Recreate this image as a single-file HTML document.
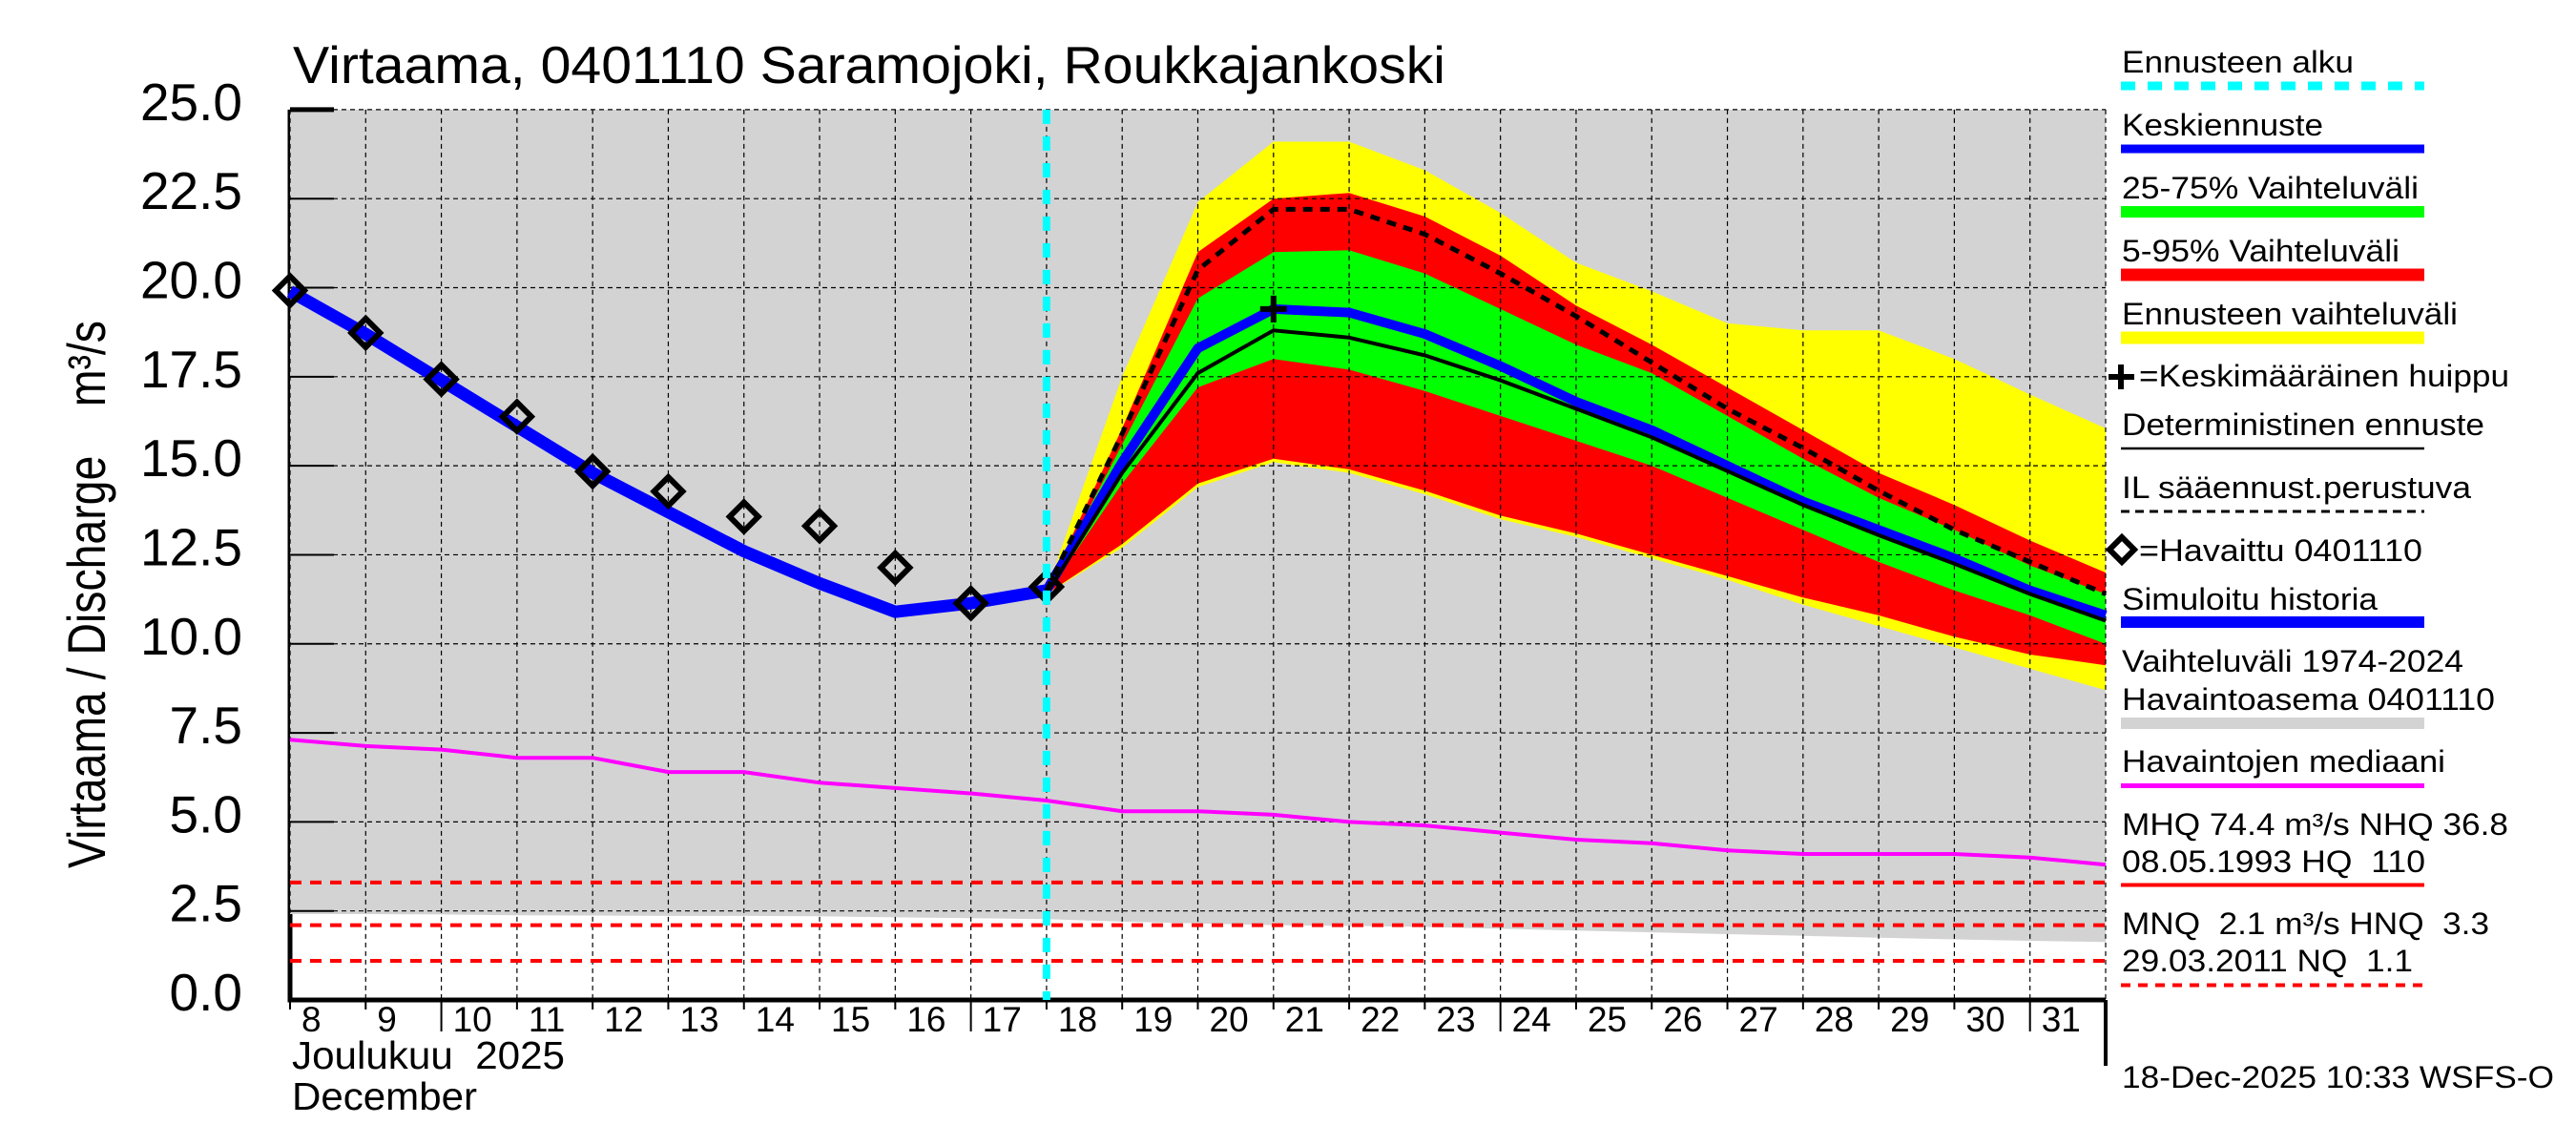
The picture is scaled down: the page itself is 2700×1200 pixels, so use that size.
<!DOCTYPE html>
<html><head><meta charset="utf-8"><style>
html,body{margin:0;padding:0;background:#fff;}
svg{display:block;font-family:"Liberation Sans",sans-serif;}
svg text{white-space:pre;}
</style></head><body>
<svg id="chart" width="2700" height="1200" viewBox="0 0 2700 1200" xmlns="http://www.w3.org/2000/svg">
<rect x="0" y="0" width="2700" height="1200" fill="#fff"/>
<text x="307" y="87" font-size="55" textLength="1208" lengthAdjust="spacingAndGlyphs">Virtaama, 0401110 Saramojoki, Roukkajankoski</text>
<text transform="translate(110,623) rotate(-90)" text-anchor="middle" font-size="56" textLength="574" lengthAdjust="spacingAndGlyphs">Virtaama / Discharge    m³/s</text>
<g id="plot"></g>
<text x="306" y="1120" font-size="41" textLength="286" lengthAdjust="spacingAndGlyphs">Joulukuu  2025</text>
<text x="306" y="1163" font-size="41" textLength="194" lengthAdjust="spacingAndGlyphs">December</text>
<g font-size="32">
<text x="2224" y="76" textLength="243" lengthAdjust="spacingAndGlyphs">Ennusteen alku</text>
<line x1="2223" y1="90" x2="2541" y2="90" stroke="#00ffff" stroke-width="9" stroke-dasharray="15,13"/>
<text x="2224" y="142" textLength="211" lengthAdjust="spacingAndGlyphs">Keskiennuste</text>
<line x1="2223" y1="156" x2="2541" y2="156" stroke="#0000ff" stroke-width="9"/>
<text x="2224" y="208" textLength="311" lengthAdjust="spacingAndGlyphs">25-75% Vaihteluväli</text>
<line x1="2223" y1="222" x2="2541" y2="222" stroke="#00ff00" stroke-width="12"/>
<text x="2224" y="274" textLength="291" lengthAdjust="spacingAndGlyphs">5-95% Vaihteluväli</text>
<line x1="2223" y1="288" x2="2541" y2="288" stroke="#ff0000" stroke-width="13"/>
<text x="2224" y="340" textLength="352" lengthAdjust="spacingAndGlyphs">Ennusteen vaihteluväli</text>
<line x1="2223" y1="354" x2="2541" y2="354" stroke="#ffff00" stroke-width="13"/>
<path d="M2210 395 H2237 M2223 382 V408" stroke="#000" stroke-width="6"/>
<text x="2242" y="405" textLength="388" lengthAdjust="spacingAndGlyphs">=Keskimääräinen huippu</text>
<text x="2224" y="456" textLength="380" lengthAdjust="spacingAndGlyphs">Deterministinen ennuste</text>
<line x1="2223" y1="470" x2="2541" y2="470" stroke="#000" stroke-width="2.5"/>
<text x="2224" y="522" textLength="366" lengthAdjust="spacingAndGlyphs">IL sääennust.perustuva</text>
<line x1="2223" y1="536" x2="2541" y2="536" stroke="#000" stroke-width="3" stroke-dasharray="9,6"/>
<path d="M2224 563 L2237 576 L2224 589 L2211 576 Z" fill="none" stroke="#000" stroke-width="6"/>
<text x="2242" y="588" textLength="297" lengthAdjust="spacingAndGlyphs">=Havaittu 0401110</text>
<text x="2224" y="639" textLength="268" lengthAdjust="spacingAndGlyphs">Simuloitu historia</text>
<line x1="2223" y1="652" x2="2541" y2="652" stroke="#0000ff" stroke-width="12"/>
<text x="2224" y="704" textLength="358" lengthAdjust="spacingAndGlyphs">Vaihteluväli 1974-2024</text>
<text x="2224" y="744" textLength="391" lengthAdjust="spacingAndGlyphs">Havaintoasema 0401110</text>
<line x1="2223" y1="758" x2="2541" y2="758" stroke="#d3d3d3" stroke-width="12"/>
<text x="2224" y="809" textLength="339" lengthAdjust="spacingAndGlyphs">Havaintojen mediaani</text>
<line x1="2223" y1="823.5" x2="2541" y2="823.5" stroke="#ff00ff" stroke-width="5"/>
<text x="2224" y="875" textLength="405" lengthAdjust="spacingAndGlyphs">MHQ 74.4 m³/s NHQ 36.8</text>
<text x="2224" y="914" textLength="318" lengthAdjust="spacingAndGlyphs">08.05.1993 HQ  110</text>
<line x1="2223" y1="927.5" x2="2541" y2="927.5" stroke="#ff0000" stroke-width="4"/>
<text x="2224" y="979" textLength="385" lengthAdjust="spacingAndGlyphs">MNQ  2.1 m³/s HNQ  3.3</text>
<text x="2224" y="1018" textLength="305" lengthAdjust="spacingAndGlyphs">29.03.2011 NQ  1.1</text>
<line x1="2223" y1="1032.5" x2="2541" y2="1032.5" stroke="#ff0000" stroke-width="4" stroke-dasharray="10,8"/>
</g>
<text x="2224" y="1140" font-size="32" textLength="453" lengthAdjust="spacingAndGlyphs">18-Dec-2025 10:33 WSFS-O</text>
</svg>
<script>
// ---- data ----
const histDays = [8,9,10,11,12,13,14,15,16,17,18];
const simulated = [19.9,18.7,17.4,16.1,14.8,13.7,12.6,11.7,10.9,11.14,11.5];
const observed = [19.92,18.73,17.43,16.38,14.84,14.28,13.57,13.31,12.14,11.14,11.6];
const allDays = [8,9,10,11,12,13,14,15,16,17,18,19,20,21,22,23,24,25,26,27,28,29,30,31,32];
const median = [7.31,7.13,7.03,6.8,6.8,6.4,6.4,6.1,5.95,5.8,5.6,5.3,5.3,5.2,5.0,4.9,4.7,4.5,4.4,4.2,4.1,4.1,4.1,4.0,3.8];
const grayLow = [2.41,2.41,2.4,2.38,2.37,2.36,2.36,2.35,2.32,2.3,2.27,2.2,2.15,2.1,2.08,2.05,2.0,1.95,1.9,1.85,1.8,1.75,1.7,1.66,1.63];
const grayHigh = 25;
const fcDays = [18,19,20,21,22,23,24,25,26,27,28,29,30,31,32];
const yellowHi = [11.5,17.5,22.4,24.1,24.1,23.3,22.1,20.7,19.9,19.0,18.8,18.8,18.0,17.0,16.05];
const redHi = [11.5,16.05,21.0,22.5,22.66,22.0,20.9,19.5,18.4,17.2,16.0,14.8,13.9,12.9,12.0];
const greenHi = [11.5,15.6,19.7,21.0,21.05,20.4,19.4,18.4,17.6,16.4,15.2,14.1,13.2,12.2,11.4];
const greenLo = [11.4,14.5,17.2,18.0,17.7,17.1,16.4,15.7,15.0,14.1,13.2,12.3,11.5,10.8,10.0];
const redLo = [11.4,12.8,14.5,15.2,14.9,14.3,13.6,13.1,12.5,11.9,11.3,10.8,10.2,9.7,9.4];
const yellowLo = [11.4,12.7,14.4,15.1,14.8,14.2,13.5,13.0,12.4,11.8,11.1,10.5,9.9,9.3,8.7];
const meanFc = [11.5,15.1,18.3,19.4,19.3,18.7,17.8,16.8,16.0,15.0,14.0,13.2,12.4,11.5,10.8];
const determ = [11.4,14.8,17.6,18.8,18.6,18.1,17.4,16.6,15.8,14.85,13.9,13.05,12.25,11.4,10.65];
const ilFc = [11.5,15.9,20.5,22.2,22.2,21.5,20.4,19.2,17.9,16.6,15.5,14.3,13.2,12.3,11.4];
const peakDay = [21];
const peakValue = [19.4];
const refLevels = [3.3,2.1,1.1];
const yTicks = [0,2.5,5,7.5,10,12.5,15,17.5,20,22.5,25];
const yTickLabels = ["0.0","2.5","5.0","7.5","10.0","12.5","15.0","17.5","20.0","22.5","25.0"];
const xTickDays = [8,9,10,11,12,13,14,15,16,17,18,19,20,21,22,23,24,25,26,27,28,29,30,31];
const forecastStart = 18;

// ---- axes ----
const X0=304, X1=2207, Y0=1048, YTOP=114.9;
function x(d){return X0+(d-8)*(X1-X0)/24;}
function y(v){return Y0-(Y0-YTOP)*v/25;}
const NS="http://www.w3.org/2000/svg";
const plot=document.getElementById('plot');
function mk(tag,attrs,parent){const e=document.createElementNS(NS,tag);for(const k in attrs)e.setAttribute(k,attrs[k]);(parent||plot).appendChild(e);return e;}
function pts(days,vals){return days.map((d,i)=>x(d).toFixed(1)+','+y(vals[i]).toFixed(1)).join(' ');}
function band(days,hi,lo){return pts(days,hi)+' '+pts(days.slice().reverse(),lo.slice().reverse());}

let e;
e=mk('path',{d:`M${X0} ${YTOP} V${Y0} H${X1}`,fill:'none',stroke:'#000','stroke-width':5});


e=mk('polygon',{points:pts(allDays,allDays.map(()=>grayHigh))+' '+pts(allDays.slice().reverse(),grayLow.slice().reverse()),fill:'#d3d3d3'});


e=mk('polygon',{points:band(fcDays,yellowHi,yellowLo),fill:'#ffff00'});


e=mk('polygon',{points:band(fcDays,redHi,redLo),fill:'#ff0000'});


e=mk('polygon',{points:band(fcDays,greenHi,greenLo),fill:'#00ff00'});


const grid=mk('g',{stroke:'#000','stroke-width':1.2,'stroke-dasharray':'5,4',fill:'none'});


for(let d=9; d<=32; d++){
  e=mk('line',{x1:x(d),y1:YTOP,x2:x(d),y2:Y0},grid);
  
  
}
yTicks.forEach(v=>{
  if(v===0) return;
  e=mk('line',{x1:X0,y1:y(v),x2:X1,y2:y(v)},grid);
  
  
});
e=mk('line',{x1:X0,y1:YTOP,x2:X0,y2:y(grayLow[0])},grid);


yTicks.forEach((v,i)=>{
  e=mk('line',{x1:X0,y1:y(v),x2:X0+46,y2:y(v),stroke:'#000','stroke-width':v===25?5:2});
  
  
  e=mk('text',{x:254,y:y(v)+11,'text-anchor':'end','font-size':55});
  e.textContent=yTickLabels[i];
  
  
});
xTickDays.forEach(d=>{
  const long=[10,17,24,31].includes(d);
  e=mk('line',{x1:x(d),y1:Y0,x2:x(d),y2:long?1081:1058,stroke:'#000','stroke-width':2});
  
  
  e=mk('text',{x:x(d)+12,y:1081,'font-size':37});
  e.textContent=String(d);
  
  
});
e=mk('line',{x1:X1,y1:Y0,x2:X1,y2:1117,stroke:'#000','stroke-width':4});


refLevels.forEach(v=>{
  e=mk('line',{x1:X0,y1:y(v),x2:X1,y2:y(v),stroke:'#ff0000','stroke-width':4,'stroke-dasharray':'12,9'});
  
  
});
e=mk('polyline',{points:pts(allDays,median),fill:'none',stroke:'#ff00ff','stroke-width':4});


e=mk('polyline',{points:pts(histDays,simulated),fill:'none',stroke:'#0000ff','stroke-width':13,'stroke-linejoin':'round'});


e=mk('polyline',{points:pts(fcDays,meanFc),fill:'none',stroke:'#0000ff','stroke-width':10,'stroke-linejoin':'round'});


e=mk('polyline',{points:pts(fcDays,determ),fill:'none',stroke:'#000','stroke-width':4});


e=mk('polyline',{points:pts(fcDays,ilFc),fill:'none',stroke:'#000','stroke-width':5,'stroke-dasharray':'10,8'});


histDays.forEach((d,i)=>{
  const cx=x(d), cy=y(observed[i]), r=15;
  e=mk('path',{d:`M${cx} ${cy-r} L${cx+r} ${cy} L${cx} ${cy+r} L${cx-r} ${cy} Z`,fill:'none',stroke:'#000','stroke-width':6});
  
  
});
peakDay.forEach((d,i)=>{
  const cx=x(d), cy=y(peakValue[i]);
  e=mk('path',{d:`M${cx-14} ${cy} H${cx+14} M${cx} ${cy-14} V${cy+14}`,stroke:'#000','stroke-width':6});
  
  
});
e=mk('line',{x1:x(forecastStart),y1:YTOP,x2:x(forecastStart),y2:Y0,stroke:'#00ffff','stroke-width':8,'stroke-dasharray':'15,13'});


</script>
</body></html>
